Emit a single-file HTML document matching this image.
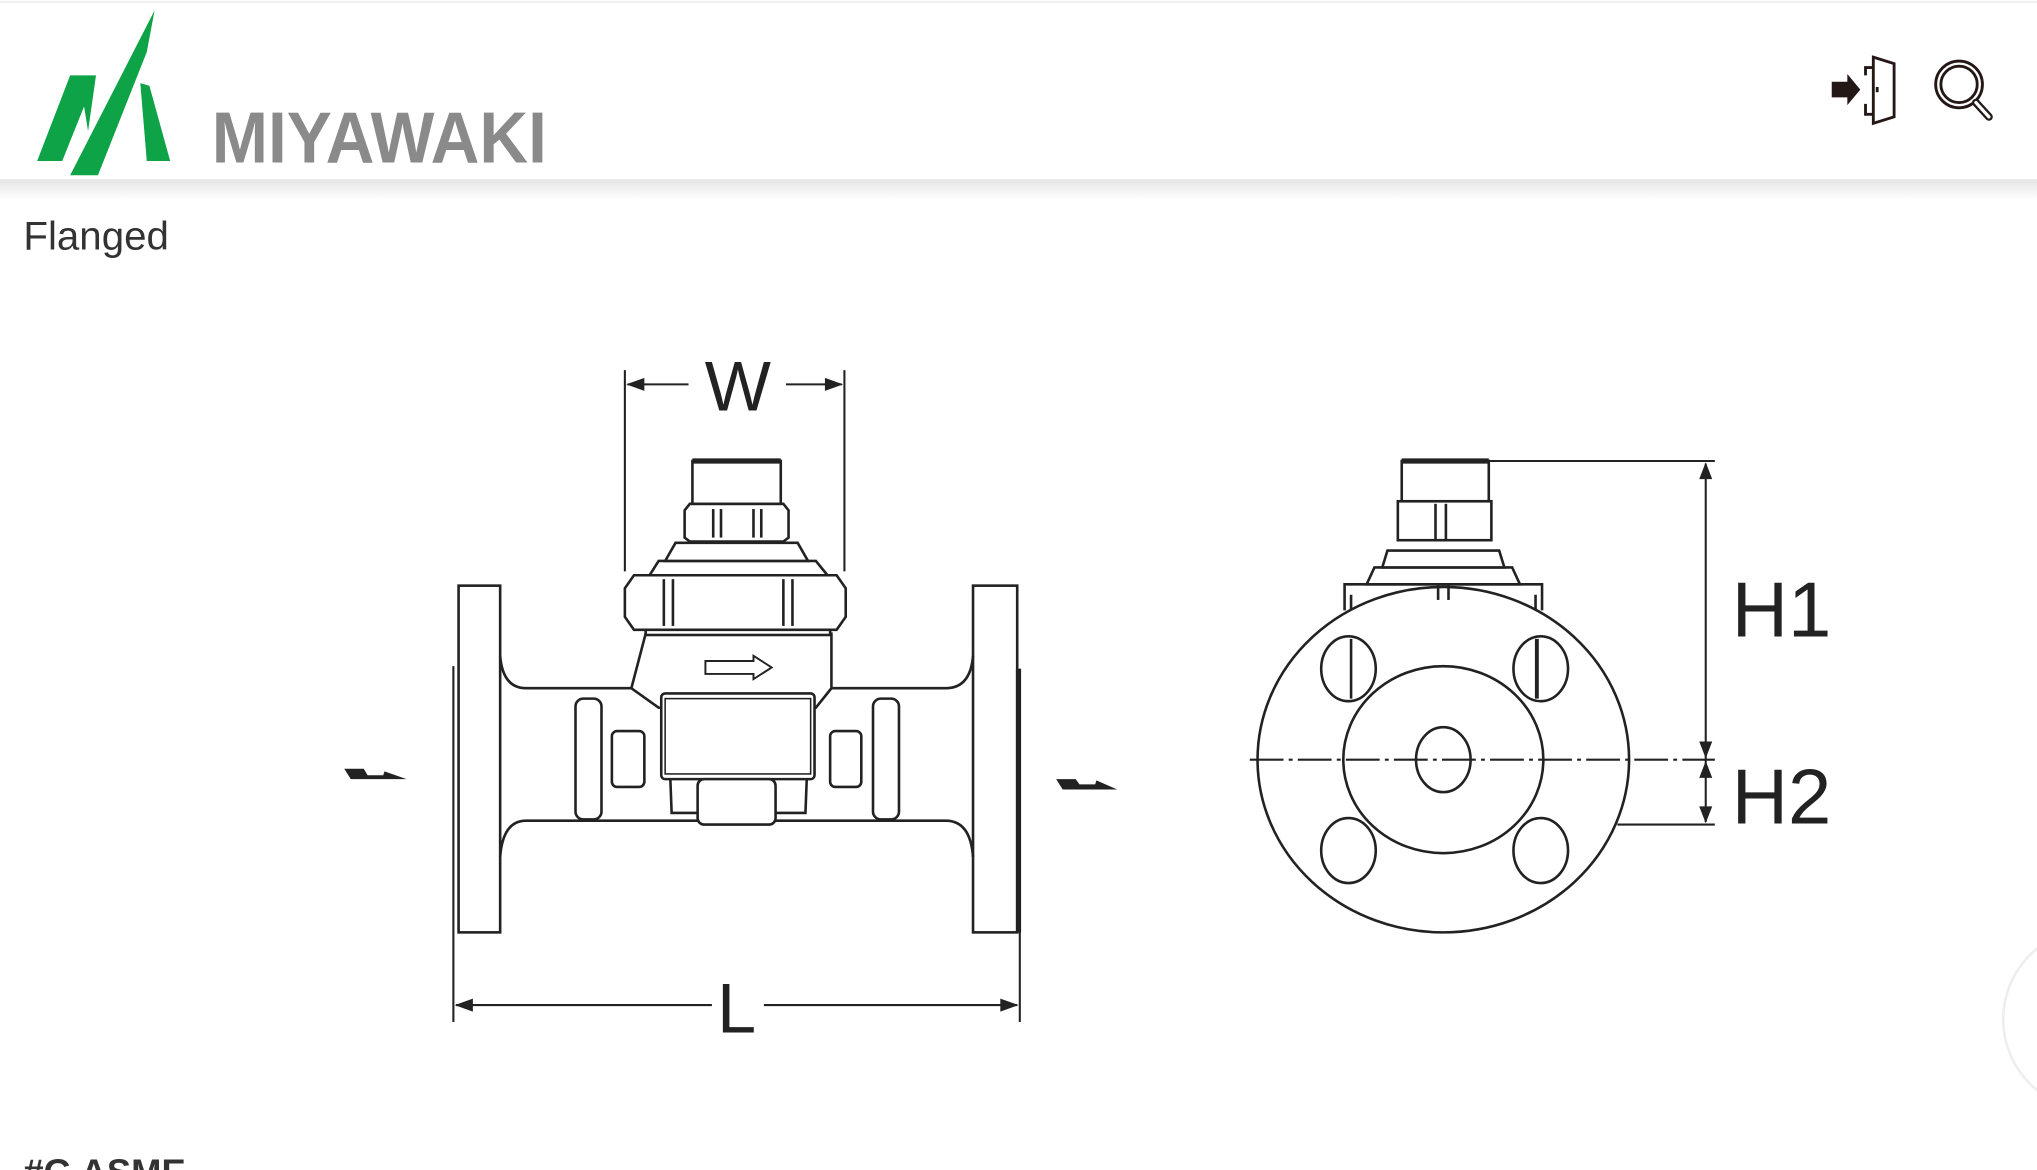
<!DOCTYPE html>
<html><head><meta charset="utf-8"><style>
html,body{margin:0;padding:0;width:2037px;height:1170px;overflow:hidden;background:#fff}
svg{display:block}
</style></head><body>
<svg width="2037" height="1170" viewBox="0 0 1568 901" preserveAspectRatio="none" xmlns="http://www.w3.org/2000/svg">
<defs>
<linearGradient id="sh" x1="0" y1="0" x2="0" y2="1"><stop offset="0" stop-color="#e4e4e4"/><stop offset="1" stop-color="#fff"/></linearGradient>
</defs>
<rect width="1568" height="901" fill="#fff"/>
<line x1="0" y1="1.5" x2="1568" y2="1.5" stroke="#eee" stroke-width="1.5"/>
<rect x="0" y="138" width="1568" height="16" fill="url(#sh)"/>
<!-- logo -->
<g fill="#0ea347">
<polygon points="28.6,124 54,58 73.9,58 67.8,101 64.7,82 47.9,124"/>
<polygon points="119,8 54,135 75.4,135 113,40"/>
<polygon points="108,64 115,66 131,124 113,124"/>
</g>
<text x="163" y="125" font-family="Liberation Sans, sans-serif" font-weight="bold" font-size="56" fill="#8a8a8a" textLength="258" lengthAdjust="spacingAndGlyphs">MIYAWAKI</text>
<!-- icons -->
<g stroke="#231815" fill="none" stroke-width="2.2">
<polyline points="1442,52 1436,52 1436,58"/>
<polyline points="1436,80 1436,88 1442,88"/>
<polygon points="1442,44 1458,49 1458,90 1442,95"/>
<line x1="1445" y1="67" x2="1445" y2="71"/>
<circle cx="1508" cy="65" r="18"/><circle cx="1508" cy="65" r="14"/>
<line x1="1521" y1="79" x2="1531" y2="90" stroke-width="6" stroke-linecap="round"/>
<line x1="1521" y1="79" x2="1531" y2="90" stroke="#fff" stroke-width="2.5" stroke-linecap="round"/>
</g>
<polygon points="1410,63 1422,63 1422,57 1432,69 1422,81 1422,75 1410,75" fill="#231815"/>
<text x="18" y="192" font-family="Liberation Sans, sans-serif" font-size="31" fill="#333">Flanged</text>
<!-- left view -->
<g stroke="#222" stroke-width="2" fill="#fff">
<rect x="353" y="451" width="32" height="267"/>
<rect x="749" y="451" width="34" height="267"/>
<path d="M385,505 Q387,530 405,530 L728,530 Q747,530 749,505" fill="none"/>
<path d="M385,660 Q387,632 405,632 L728,632 Q747,632 749,660" fill="none"/>
<rect x="443" y="538" width="20" height="93" rx="6"/>
<rect x="672" y="538" width="20" height="93" rx="6"/>
<rect x="471" y="563" width="25" height="43" rx="4"/>
<rect x="639" y="563" width="24" height="43" rx="4"/>
<path d="M497,488 L640,488 L640,530 L628,545 L507,545 L486,530 Z"/>
<rect x="509" y="534" width="118" height="66" rx="3"/>
<rect x="512" y="538" width="112" height="58" fill="none" stroke-width="1.2"/>
<path d="M516,600 L517,626 L620,626 L621,600" fill="none"/>
<rect x="537" y="600" width="60" height="35" rx="5"/>
<path d="M543,509 L580,509 L580,505 L594,514 L580,523 L580,519 L543,519 Z" stroke-width="1.5"/>
<rect x="497" y="482" width="142" height="7"/>
<path d="M488,443 L644,443 L651,453 L651,475 L644,485 L488,485 L481,475 L481,453 Z"/>
<line x1="511" y1="446" x2="511" y2="482"/><line x1="518" y1="446" x2="518" y2="482"/>
<line x1="603" y1="446" x2="603" y2="482"/><line x1="610" y1="446" x2="610" y2="482"/>
<path d="M500,443 L507,432 L628,432 L637,443 Z"/>
<path d="M512,432 L520,418 L614,418 L622,432 Z"/>
<path d="M531,388 L603,388 L607,393 L607,414 L603,417 L531,417 L527,414 L527,393 Z"/>
<line x1="549" y1="392" x2="549" y2="414"/><line x1="555" y1="392" x2="555" y2="414"/>
<line x1="580" y1="392" x2="580" y2="414"/><line x1="586" y1="392" x2="586" y2="414"/>
<rect x="533" y="355" width="68" height="33"/>
</g>
<line x1="533" y1="355" x2="601" y2="355" stroke="#222" stroke-width="4"/>
<g stroke="#222" stroke-width="1.6" fill="none">
<line x1="349" y1="513" x2="349" y2="787"/>
<line x1="785" y1="515" x2="785" y2="787"/>
<line x1="481" y1="285" x2="481" y2="440"/>
<line x1="650" y1="285" x2="650" y2="440"/>
<line x1="483" y1="296" x2="530" y2="296"/><line x1="605" y1="296" x2="648" y2="296"/>
<line x1="351" y1="774" x2="548" y2="774"/><line x1="588" y1="774" x2="783" y2="774"/>
</g>
<line x1="784" y1="515" x2="784" y2="718" stroke="#222" stroke-width="4"/>
<g fill="#222">
<polygon points="482,296 496,291 496,301"/><polygon points="649,296 635,291 635,301"/>
<polygon points="350,774 364,769 364,779"/><polygon points="784,774 770,769 770,779"/>
<polygon points="265,592 280,592 283,597 295,597 296,594 313,600 270,600"/>
<polygon points="813,600 828,600 831,604 843,604 844,601 860,608 818,608"/>
</g>
<text x="568" y="316" text-anchor="middle" font-family="Liberation Sans, sans-serif" font-size="54" fill="#222">W</text>
<text x="567" y="795" text-anchor="middle" font-family="Liberation Sans, sans-serif" font-size="54" fill="#222">L</text>
<!-- right view -->
<g stroke="#222" stroke-width="2" fill="#fff">
<path d="M1035,470 L1035,450 L1187,450 L1187,470" fill="none"/>
<path d="M1040,458 L1040,470 M1182,458 L1182,470" fill="none"/>
<ellipse cx="1111" cy="585" rx="143" ry="133"/>
<ellipse cx="1111" cy="585" rx="77" ry="72"/>
<ellipse cx="1111" cy="585" rx="21" ry="25"/>
<ellipse cx="1038" cy="515" rx="21" ry="25"/>
<ellipse cx="1186" cy="515" rx="21" ry="25"/>
<ellipse cx="1038" cy="655" rx="21" ry="25"/>
<ellipse cx="1186" cy="655" rx="21" ry="25"/>
<line x1="1040" y1="492" x2="1040" y2="538"/><line x1="1183" y1="492" x2="1183" y2="538" stroke-width="3"/>
<path d="M1052,450 L1058,437 L1164,437 L1170,450 Z"/>
<path d="M1064,437 L1068,424 L1154,424 L1158,437 Z"/>
<rect x="1076" y="386" width="72" height="30"/>
<line x1="1105" y1="388" x2="1105" y2="416"/><line x1="1113" y1="388" x2="1113" y2="416"/>
<rect x="1079" y="355" width="67" height="31"/>
<line x1="1107" y1="450" x2="1107" y2="462"/><line x1="1115" y1="450" x2="1115" y2="462"/>
</g>
<line x1="1079" y1="355" x2="1146" y2="355" stroke="#222" stroke-width="4"/>
<g stroke="#222" stroke-width="1.6" fill="none">
<line x1="962" y1="585" x2="1320" y2="585" stroke-dasharray="26,4,3,4"/>
<line x1="1146" y1="355" x2="1320" y2="355"/>
<line x1="1245" y1="635" x2="1320" y2="635"/>
<line x1="1313" y1="357" x2="1313" y2="633"/>
</g>
<g fill="#222">
<polygon points="1313,356 1308,369 1318,369"/><polygon points="1313,584 1308,571 1318,571"/>
<polygon points="1313,586 1308,599 1318,599"/><polygon points="1313,634 1308,621 1318,621"/>
</g>
<text x="1333" y="490" font-family="Liberation Sans, sans-serif" font-size="60" fill="#222">H1</text>
<text x="1333" y="634" font-family="Liberation Sans, sans-serif" font-size="60" fill="#222">H2</text>
<!-- bottom -->
<text x="18" y="912" font-family="Liberation Sans, sans-serif" font-weight="bold" font-size="28" fill="#333">#G ASME</text>
<circle cx="1612" cy="785" r="70" fill="#fff" stroke="#eee" stroke-width="2"/>
</svg>
</body></html>
